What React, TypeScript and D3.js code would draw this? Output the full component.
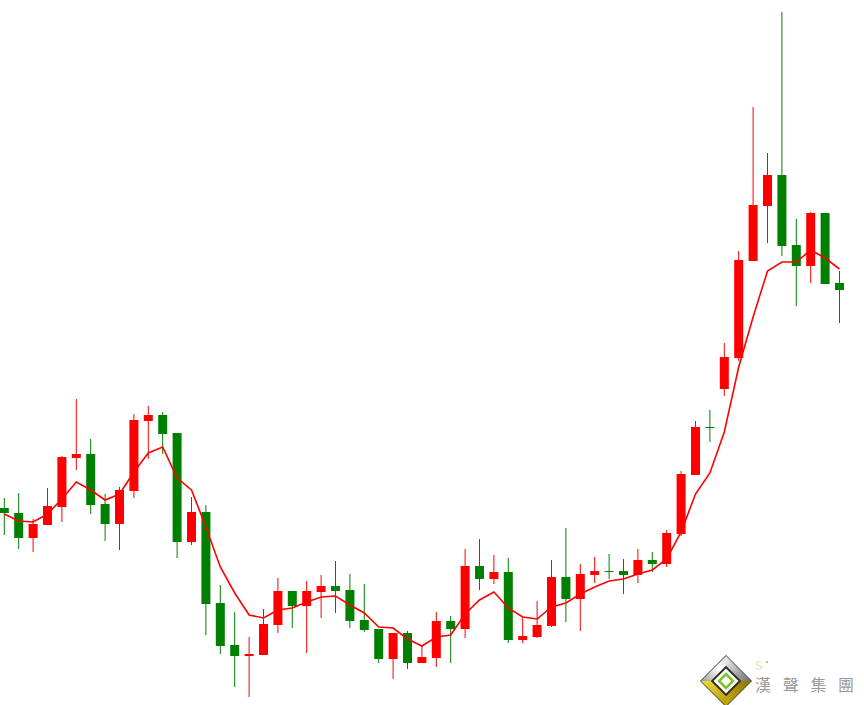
import React from 'react';
import * as d3 from 'd3';

// daily prices (no axis in the source, arbitrary units)
const open = [21.2, 20.7, 18.2, 19.5, 21.3, 26.2, 26.6, 21.6, 19.6, 22.9, 29.9, 30.5, 28.7, 17.8, 20.8, 11.7, 7.5, 6.4, 6.5, 9.5, 12.9, 11.4, 12.8, 13.4, 13.0, 10.0, 9.1, 6.1, 8.7, 5.7, 6.2, 9.9, 9.1, 15.4, 14.1, 14.8, 8.0, 8.3, 9.4, 14.3, 12.1, 14.5, 14.9, 14.9, 14.5, 16.0, 15.6, 18.6, 24.5, 29.3, 33.1, 36.2, 45.9, 51.4, 54.5, 47.5, 45.4, 50.7, 43.7];
const high = [22.2, 22.7, 20.1, 23.2, 26.4, 32.1, 28.1, 22.6, 23.3, 30.6, 31.4, 30.8, 28.7, 22.3, 21.5, 13.5, 10.8, 8.3, 11.1, 14.2, 12.9, 13.9, 14.5, 15.9, 14.6, 13.6, 9.1, 8.7, 8.9, 7.4, 10.8, 10.4, 17.1, 18.1, 16.5, 16.2, 10.2, 11.9, 16.0, 19.2, 15.6, 16.3, 16.6, 16.1, 17.1, 16.8, 19.0, 24.9, 29.9, 31.0, 37.7, 46.9, 61.3, 56.7, 70.8, 50.1, 50.8, 50.7, 44.9];
const low = [18.5, 17.1, 16.8, 19.5, 19.8, 25.0, 20.6, 17.9, 17.0, 22.2, 26.1, 26.6, 16.2, 17.5, 8.5, 6.6, 3.3, 2.3, 6.5, 8.7, 9.2, 6.7, 10.2, 10.7, 9.2, 8.8, 5.7, 4.1, 5.1, 5.7, 5.3, 5.7, 8.2, 13.0, 13.6, 7.7, 7.7, 8.2, 9.3, 9.8, 8.9, 13.7, 14.1, 12.6, 13.7, 14.8, 15.3, 18.4, 24.5, 27.8, 32.4, 35.9, 45.9, 47.7, 46.4, 41.4, 43.7, 43.6, 39.7];
const close = [20.7, 18.2, 19.6, 21.4, 26.3, 26.6, 21.5, 19.6, 23.0, 30.0, 30.5, 28.6, 17.8, 20.8, 11.6, 7.4, 6.4, 6.6, 9.6, 12.9, 11.4, 12.9, 13.4, 12.9, 9.9, 9.0, 6.1, 8.7, 5.7, 6.3, 9.9, 9.1, 15.4, 14.1, 14.8, 8.0, 8.4, 9.5, 14.3, 12.1, 14.6, 14.9, 14.8, 14.5, 16.0, 15.6, 18.7, 24.6, 29.3, 29.2, 36.3, 46.0, 51.5, 54.5, 47.4, 45.4, 50.7, 43.6, 43.0];
// moving average line, also
const ma = [20.6, 19.9, 19.8, 20.6, 22.1, 23.8, 23.0, 22.0, 22.6, 24.8, 26.7, 27.3, 24.2, 23.0, 19.3, 15.3, 12.7, 10.5, 10.2, 11.0, 11.2, 11.8, 12.3, 12.4, 11.5, 10.7, 9.3, 9.2, 8.1, 7.4, 8.3, 8.5, 10.6, 12.0, 12.8, 11.2, 10.3, 10.1, 11.3, 11.7, 12.6, 13.3, 13.9, 14.1, 14.6, 15.0, 16.1, 18.8, 22.6, 24.7, 28.8, 35.3, 40.3, 44.9, 45.8, 45.8, 47.0, 46.2, 45.1];

const logoText = '漢聲集團';

const W = 864;
const H = 705;
const UP = '#ff0000';
const DOWN = '#008000';

const App = () => {
  const idx = d3.range(open.length);
  const x = d3.scaleLinear().domain([0, open.length - 1]).range([4.3, 839.5]);
  const y = d3.scaleLinear().domain([0, 72]).range([720, 0]);
  const bw = 9;

  const maLine = d3.line<number>()
    .x((d, i) => x(i))
    .y(d => y(d));

  // logo geometry
  const cx = 726, cy = 681, R = 25, r = 15;
  const pt = (rad: number, a: number) => [cx + rad * Math.cos(a), cy + rad * Math.sin(a)];
  const facet = (a1: number, a2: number) => {
    const p = [pt(R, a1), pt(R, a2), pt(r, a2), pt(r, a1)];
    return 'M' + p.map(q => q.join(',')).join('L') + 'Z';
  };
  const diamond = (rad: number) => {
    const p = [0, 1, 2, 3].map(k => pt(rad, -Math.PI / 2 + k * Math.PI / 2));
    return 'M' + p.map(q => q.join(',')).join('L') + 'Z';
  };
  const T = -Math.PI / 2, Rt = 0, B = Math.PI / 2, L = Math.PI;

  return (
    <svg width={W} height={H} style={{ position: 'fixed', left: 0, top: 0, background: '#fff' }}>
      <defs>
        <linearGradient id="silverL" x1="0" y1="1" x2="1" y2="0">
          <stop offset="0" stopColor="#9a9a9a" />
          <stop offset="0.6" stopColor="#ffffff" />
          <stop offset="1" stopColor="#d8d8d8" />
        </linearGradient>
        <linearGradient id="silverR" x1="0" y1="0" x2="1" y2="1">
          <stop offset="0" stopColor="#f4f4f4" />
          <stop offset="1" stopColor="#6e6e6e" />
        </linearGradient>
        <linearGradient id="goldL" x1="0" y1="0" x2="1" y2="1">
          <stop offset="0" stopColor="#f0dc3c" />
          <stop offset="1" stopColor="#b89a00" />
        </linearGradient>
        <linearGradient id="goldR" x1="1" y1="0" x2="0" y2="1">
          <stop offset="0" stopColor="#8a7600" />
          <stop offset="1" stopColor="#c8aa10" />
        </linearGradient>
      </defs>

      {idx.map(i => {
        const up = close[i] >= open[i];
        const c = up ? UP : DOWN;
        const top = y(Math.max(open[i], close[i]));
        const bot = y(Math.min(open[i], close[i]));
        return (
          <g key={i}>
            <line x1={x(i)} x2={x(i)} y1={y(high[i])} y2={y(low[i])} stroke={c} strokeWidth={1} />
            <rect x={x(i) - bw / 2} y={top} width={bw} height={Math.max(1, bot - top)} fill={c} />
          </g>
        );
      })}

      <path d={maLine(ma) || ''} fill="none" stroke={UP} strokeWidth={1.6} />

      <g>
        <path d={diamond(R + 1)} fill="#3a3a3a" />
        <path d={facet(L, T)} fill="url(#silverL)" />
        <path d={facet(T, Rt)} fill="url(#silverR)" />
        <path d={facet(B, L)} fill="url(#goldL)" />
        <path d={facet(Rt, B)} fill="url(#goldR)" />
        <path d={diamond(r)} fill="#2e2a20" />
        <path d={diamond(r - 2.5)} fill="#ffffff" />
        <path d={diamond(7)} fill="none" stroke="#7cc42a" strokeWidth={2.5} />
      </g>
      <text x={755} y={670} fontFamily="DejaVu Sans" fontSize={12} fill="#e6e0b8">S</text>
      <circle cx={767} cy={662} r={1} fill="#8cc63f" />
      {Array.from(logoText).map((ch, k) => (
        <text key={k} x={755 + k * 27.7} y={691} fontFamily="'Noto Sans CJK TC'" fontSize={16} fill="#9a9a9a">{ch}</text>
      ))}
    </svg>
  );
};

export default App;
